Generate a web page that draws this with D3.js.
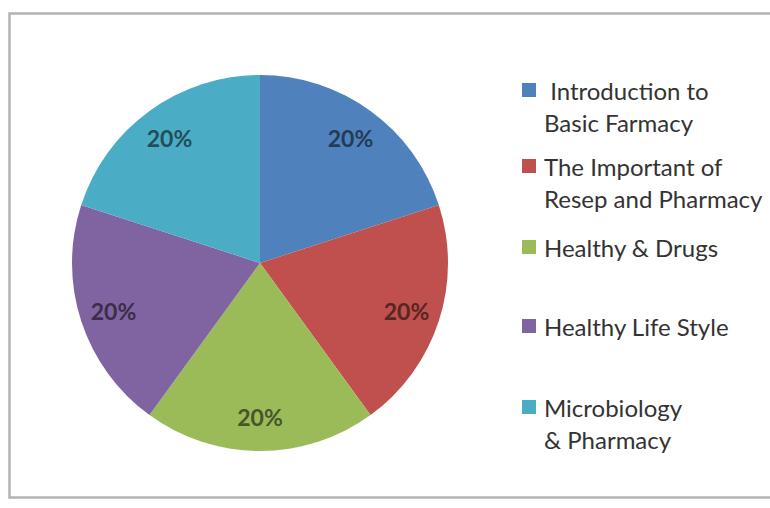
<!DOCTYPE html>
<html>
<head>
<meta charset="utf-8">
<script src="https://cdn.jsdelivr.net/npm/d3@7"></script>
<style>
  html, body { margin: 0; padding: 0; background: #fff; }
  svg { display: block; }
</style>
</head>
<body>
<svg id="chart" width="770" height="508"></svg>
<script>
// Course topics, each shown as an equal share of the syllabus
const categories = [
  ["\u00a0Introduction to", "Basic Farmacy"],
  ["The Important of", "Resep and Pharmacy"],
  ["Healthy & Drugs"],
  ["Healthy Life Style"],
  ["Microbiology", "& Pharmacy"]
];
const values = [20, 20, 20, 20, 20];
const colors = ["#4F81BD", "#C0504D", "#9BBB59", "#8064A2", "#4BACC6"];
const legendRowY = [90, 166, 247, 326, 407];

const svg = d3.select("#chart");
const W = 770, H = 508;

// Chart-area frame
svg.append("rect")
  .attr("x", 9.5).attr("y", 13.5)
  .attr("width", W + 20).attr("height", 484)
  .attr("fill", "#fff")
  .attr("stroke", "#b4b4b4")
  .attr("stroke-width", 2.5);

const cx = 260, cy = 263, R = 188, labelR = 154;
const total = d3.sum(values);

const pie = d3.pie().sort(null).value(d => d);
const arcs = pie(values);
const arc = d3.arc().innerRadius(0).outerRadius(R);
const labelArc = d3.arc().innerRadius(labelR).outerRadius(labelR);

const g = svg.append("g").attr("transform", `translate(${cx},${cy})`);

g.selectAll("path.slice")
  .data(arcs)
  .join("path")
  .attr("class", "slice")
  .attr("d", arc)
  .attr("fill", (d, i) => colors[i]);

const fmt = d3.format(".0%");
g.selectAll("text.pct")
  .data(arcs)
  .join("text")
  .attr("class", "pct")
  .attr("transform", d => `translate(${labelArc.centroid(d)})`)
  .attr("text-anchor", "middle")
  .attr("dominant-baseline", "central")
  .attr("font-family", "Lato, 'Open Sans', sans-serif")
  .attr("font-weight", "bold")
  .attr("font-size", 23)
  .attr("fill", (d, i) => d3.color(colors[i]).darker(2.2))
  .text(d => fmt(d.value / total));

// Legend
const legend = svg.append("g");
const rows = legend.selectAll("g.item")
  .data(categories)
  .join("g")
  .attr("class", "item")
  .attr("transform", (d, i) => `translate(522,${legendRowY[i]})`);

rows.append("rect")
  .attr("x", 0).attr("y", -7)
  .attr("width", 14).attr("height", 14)
  .attr("fill", (d, i) => colors[i]);

rows.each(function(lines) {
  const t = d3.select(this).append("text")
    .attr("font-family", "Lato, 'Open Sans', sans-serif")
    .attr("font-size", 24)
    .attr("fill", "#333333");
  lines.forEach((line, k) => {
    t.append("tspan")
      .attr("x", 22)
      .attr("y", k * 32)
      .attr("dominant-baseline", "central")
      .text(line);
  });
});
</script>
</body>
</html>
